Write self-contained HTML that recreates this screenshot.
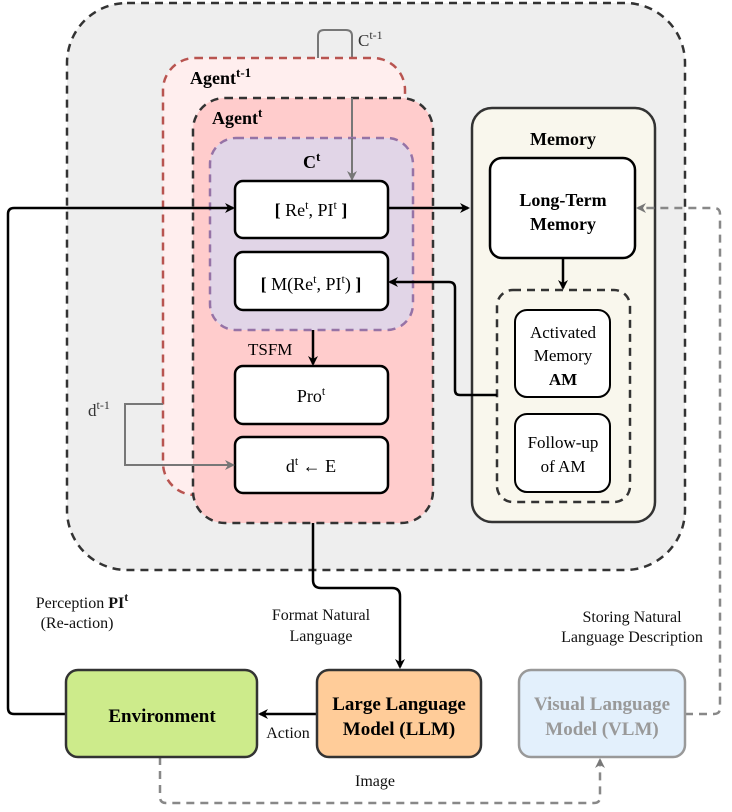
<!DOCTYPE html><html><head><style>body{margin:0;background:#fff}svg,svg text{font-family:"Liberation Serif",serif}</style></head><body>
<svg width="732" height="812" viewBox="0 0 732 812" xmlns="http://www.w3.org/2000/svg" font-family="'Liberation Serif', serif" style="display:block">
<defs>
<marker id="a" markerWidth="10" markerHeight="10" refX="8" refY="5" orient="auto" markerUnits="userSpaceOnUse"><path d="M0,0 L10,5 L0,10 L3,5z" fill="#000"/></marker>
<marker id="g" markerWidth="10" markerHeight="10" refX="8" refY="5" orient="auto" markerUnits="userSpaceOnUse"><path d="M0,0 L10,5 L0,10 L3,5z" fill="#777"/></marker>
</defs>
<rect x="67" y="3" width="618" height="567" rx="60" fill="#eeeeee" stroke="#333" stroke-width="2.5" stroke-dasharray="8,6"/>
<path d="M318,58 V36 Q318,30 324,30 H346 Q352,30 352,36 V178" fill="none" stroke="#777" stroke-width="2" marker-end="url(#g)"/>
<rect x="163" y="58" width="242" height="437" rx="32" fill="#ffeeee" stroke="#b85450" stroke-width="2.5" stroke-dasharray="8,6"/>
<rect x="193" y="98" width="240" height="425" rx="32" fill="#ffcccc" stroke="#333" stroke-width="2.5" stroke-dasharray="8,6"/>
<path d="M352,98 V178" fill="none" stroke="#777" stroke-width="2" marker-end="url(#g)"/>
<rect x="210" y="138" width="203" height="192" rx="26" fill="#e1d5e7" stroke="#9673a6" stroke-width="2.5" stroke-dasharray="8,6"/>
<path d="M352,138 V179" fill="none" stroke="#777" stroke-width="2" marker-end="url(#g)"/>
<text x="190" y="84" font-size="18" font-weight="bold">Agent<tspan font-size="13" dy="-7">t-1</tspan></text>
<text x="212" y="124" font-size="18" font-weight="bold">Agent<tspan font-size="13" dy="-7">t</tspan></text>
<text x="303" y="168" font-size="18" font-weight="bold">C<tspan font-size="13" dy="-7">t</tspan></text>
<text x="358" y="46" font-size="17" fill="#333">C<tspan font-size="12" dy="-7">t-1</tspan></text>
<g fill="#fff" stroke="#000" stroke-width="2.5">
<rect x="235" y="181" width="153" height="57" rx="8"/>
<rect x="235" y="252" width="153" height="58" rx="8"/>
<rect x="235" y="366" width="153" height="58" rx="8"/>
<rect x="235" y="437" width="153" height="56" rx="8"/>
</g>
<g font-size="18" text-anchor="middle">
<text x="311" y="216"><tspan font-weight="bold">[</tspan> Re<tspan font-size="12" dy="-7">t</tspan><tspan dy="7">, PI</tspan><tspan font-size="12" dy="-7">t</tspan><tspan dy="7" font-weight="bold"> ]</tspan></text>
<text x="311" y="290"><tspan font-weight="bold">[</tspan> M(Re<tspan font-size="12" dy="-7">t</tspan><tspan dy="7">, PI</tspan><tspan font-size="12" dy="-7">t</tspan><tspan dy="7">) </tspan><tspan font-weight="bold">]</tspan></text>
<text x="311" y="402">Pro<tspan font-size="12" dy="-7">t</tspan></text>
<text x="311" y="472">d<tspan font-size="12" dy="-7">t</tspan><tspan dy="7"> ← E</tspan></text>
</g>
<text x="248" y="355" font-size="17">TSFM</text>
<path d="M313,330 V364" stroke="#000" stroke-width="2.5" marker-end="url(#a)"/>
<path d="M163,404 H125 V465 H233" fill="none" stroke="#777" stroke-width="2" marker-end="url(#g)"/>
<text x="88" y="416" font-size="17" fill="#333">d<tspan font-size="12" dy="-7">t-1</tspan></text>
<rect x="472" y="108" width="183" height="414" rx="20" fill="#f9f7ed" stroke="#333" stroke-width="2.5"/>
<text x="563" y="145" font-size="18" font-weight="bold" text-anchor="middle">Memory</text>
<rect x="490" y="158" width="145" height="100" rx="12" fill="#fff" stroke="#000" stroke-width="2.5"/>
<text x="563" y="206" font-size="18" font-weight="bold" text-anchor="middle">Long-Term</text>
<text x="563" y="230" font-size="18" font-weight="bold" text-anchor="middle">Memory</text>
<path d="M563,258 V288" stroke="#000" stroke-width="2.5" marker-end="url(#a)"/>
<rect x="497" y="290" width="133" height="212" rx="16" fill="none" stroke="#333" stroke-width="2.5" stroke-dasharray="8,6"/>
<rect x="515" y="310" width="95" height="87" rx="12" fill="#fff" stroke="#000" stroke-width="2"/>
<rect x="515" y="414" width="95" height="78" rx="12" fill="#fff" stroke="#000" stroke-width="2"/>
<g font-size="17" text-anchor="middle">
<text x="563" y="338">Activated</text><text x="563" y="361">Memory</text><text x="563" y="385" font-weight="bold">AM</text>
<text x="563" y="448">Follow-up</text><text x="563" y="472">of AM</text>
</g>
<path d="M497,395 H460 Q455,395 455,390 V288 Q455,282 449,282 H390" fill="none" stroke="#000" stroke-width="2.5" marker-end="url(#a)"/>
<path d="M388,208 H468" stroke="#000" stroke-width="2.5" marker-end="url(#a)"/>
<path d="M66,714 H14 Q8,714 8,708 V214 Q8,208 14,208 H233" fill="none" stroke="#000" stroke-width="2.5" marker-end="url(#a)"/>
<path d="M313,523 V580 Q313,588 321,588 H392 Q400,588 400,596 V667" fill="none" stroke="#000" stroke-width="2.5" marker-end="url(#a)"/>
<path d="M685,714 H714 Q720,714 720,708 V214 Q720,208 714,208 H638" fill="none" stroke="#888" stroke-width="2.5" stroke-dasharray="8,6" marker-end="url(#g)"/>
<path d="M160,757 V797 Q160,803 166,803 H594 Q600,803 600,797 V760" fill="none" stroke="#888" stroke-width="2.5" stroke-dasharray="8,6" marker-end="url(#g)"/>
<path d="M317,714 H260" stroke="#000" stroke-width="2.5" marker-end="url(#a)"/>
<rect x="66" y="670" width="191" height="87" rx="12" fill="#cdeb8b" stroke="#333" stroke-width="2.5"/>
<rect x="317" y="670" width="164" height="87" rx="12" fill="#ffcc99" stroke="#333" stroke-width="2.5"/>
<rect x="519" y="670" width="166" height="87" rx="12" fill="#e3f0fc" stroke="#999" stroke-width="2.5"/>
<g font-size="19" font-weight="bold" text-anchor="middle">
<text x="162" y="722">Environment</text>
<text x="399" y="710">Large Language</text><text x="399" y="735">Model (LLM)</text>
<text x="602" y="710" fill="#999">Visual Language</text><text x="602" y="735" fill="#999">Model (VLM)</text>
</g>
<g font-size="16" text-anchor="middle" fill="#111">
<text x="82" y="608">Perception <tspan font-weight="bold">PI</tspan><tspan font-weight="bold" font-size="12" dy="-7">t</tspan></text>
<text x="77" y="628">(Re-action)</text>
<text x="321" y="620">Format Natural</text><text x="321" y="641">Language</text>
<text x="632" y="622">Storing Natural</text><text x="632" y="642">Language Description</text>
<text x="288" y="738">Action</text>
<text x="375" y="786">Image</text>
</g>
</svg></body></html>
